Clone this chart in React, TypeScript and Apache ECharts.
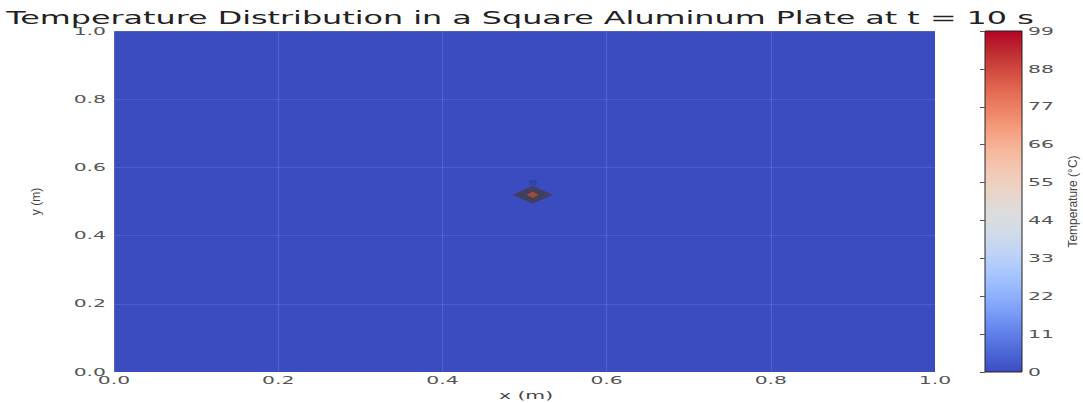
import React, { useEffect, useRef } from "react";
import * as echarts from "echarts";

const chartTitle = "Temperature Distribution in a Square Aluminum Plate at t = 10 s";
const xAxisName = "x (m)";
const yAxisName = "y (m)";
const colorbarName = "Temperature (°C)";

// plate extent [min, max] in metres and its (ambient) temperature
const plateX = [0, 1];
const plateY = [0, 1];
const plateTemp = [0];

// hot spot at the plate's centre
const hotX = [0.51];
const hotY = [0.52];
const hotTemp = [99];

// tick labels
const xTicks = [0, 0.2, 0.4, 0.6, 0.8, 1.0];
const yTicks = [0, 0.2, 0.4, 0.6, 0.8, 1.0];
const tempTicks = [0, 11, 22, 33, 44, 55, 66, 77, 88, 99];
const tempMin = 0;
const tempMax = 99;

const coolwarm = [
  "#3b4cc0", "#4d68d7", "#6282ea", "#7a9df8", "#93b5fe", "#aac7fd",
  "#c0d4f5", "#d2dbe8", "#dddcdc", "#ead4c8", "#f2c9b4", "#f6b89c",
  "#f5a081", "#ee8468", "#e36a53", "#d24b40", "#bd2a30", "#b40426",
];

const WIDE = 1.85;
const tickFont = { fontSize: 11, fontFamily: "DejaVu Sans", fill: "#555" };

export default function App() {
  const ref = useRef<HTMLDivElement>(null);
  useEffect(() => {
    document.body.style.margin = "0";
    const chart = echarts.init(ref.current!, null, { renderer: "svg" });
    const n = coolwarm.length;
    const gradStops = coolwarm.map((c, i) => ({ offset: i / (n - 1), color: c }));
    const tickLabel = (
      pt: number[],
      dx: number,
      dy: number,
      text: string,
      align: string
    ) => ({
      type: "text",
      x: pt[0] + dx,
      y: pt[1] + dy,
      scaleX: WIDE,
      style: { ...tickFont, text, textAlign: align, textVerticalAlign: "middle" },
    });
    chart.setOption({
      animation: false,
      backgroundColor: "#fff",
      graphic: [
        {
          type: "text",
          x: 520,
          y: 18,
          scaleX: 1.87,
          style: {
            text: chartTitle,
            textAlign: "center",
            textVerticalAlign: "middle",
            fontSize: 17,
            fontFamily: "DejaVu Sans",
            fill: "#222",
          },
        },
        {
          type: "text",
          x: 526,
          y: 395,
          scaleX: WIDE,
          style: {
            text: xAxisName,
            textAlign: "center",
            textVerticalAlign: "middle",
            fontSize: 11,
            fontFamily: "DejaVu Sans",
            fill: "#444",
          },
        },
      ],
      visualMap: {
        show: false,
        min: tempMin,
        max: tempMax,
        dimension: 4,
        seriesIndex: [0],
        inRange: { color: coolwarm },
      },
      grid: [
        { left: 114, top: 31, width: 821, height: 341 },
        { left: 985, top: 31, width: 37, height: 341 },
      ],
      xAxis: [
        {
          type: "value",
          gridIndex: 0,
          min: 0,
          max: 1,
          interval: 0.2,
          axisLine: { show: false },
          axisTick: { show: false },
          axisLabel: { show: false },
          splitLine: { show: true, lineStyle: { color: "rgba(255,255,255,0.13)", width: 1 } },
        },
        { type: "value", gridIndex: 1, min: 0, max: 1, show: false },
      ],
      yAxis: [
        {
          type: "value",
          gridIndex: 0,
          min: 0,
          max: 1,
          interval: 0.2,
          name: yAxisName,
          nameLocation: "middle",
          nameGap: 72,
          nameRotate: 90,
          nameTextStyle: { color: "#444", fontSize: 12, fontFamily: "Liberation Sans Narrow, Liberation Sans" },
          axisLine: { show: false },
          axisTick: { show: false },
          axisLabel: { show: false },
          splitLine: { show: true, lineStyle: { color: "rgba(255,255,255,0.1)", width: 1 } },
        },
        {
          type: "value",
          gridIndex: 1,
          min: tempMin,
          max: tempMax,
          interval: 11,
          position: "right",
          name: colorbarName,
          nameLocation: "middle",
          nameGap: 45,
          nameRotate: 90,
          nameTextStyle: { color: "#444", fontSize: 12, fontFamily: "Liberation Sans Narrow, Liberation Sans" },
          axisLine: { show: false },
          axisTick: { show: true, inside: true, length: 5, lineStyle: { color: "#555" } },
          axisLabel: { show: false },
          splitLine: { show: false },
        },
      ],
      series: [
        {
          type: "custom",
          xAxisIndex: 0,
          yAxisIndex: 0,
          z: -1,
          encode: { x: [0, 1], y: [2, 3] },
          data: [[plateX[0], plateX[1], plateY[0], plateY[1], plateTemp[0]]],
          renderItem: (params: any, api: any) => {
            const p0 = api.coord([api.value(0), api.value(2)]);
            const p1 = api.coord([api.value(1), api.value(3)]);
            return {
              type: "rect",
              shape: { x: p0[0], y: p1[1], width: p1[0] - p0[0], height: p0[1] - p1[1] },
              style: { fill: api.visual("color") },
            };
          },
        },
        {
          type: "scatter",
          xAxisIndex: 0,
          yAxisIndex: 0,
          symbol: "diamond",
          symbolSize: [40, 18],
          itemStyle: { color: "#433c44" },
          label: {
            show: true,
            position: "top",
            distance: 0,
            fontSize: 7,
            color: "#1c2a80",
            formatter: (p: any) => String(p.value[2]),
          },
          data: hotX.map((x, i) => [x, hotY[i], hotTemp[i]]),
        },
        {
          type: "scatter",
          xAxisIndex: 0,
          yAxisIndex: 0,
          symbol: "diamond",
          symbolSize: [12, 6],
          itemStyle: { color: "#b8512c" },
          data: hotX.map((x, i) => [x, hotY[i], hotTemp[i]]),
        },
        {
          type: "custom",
          xAxisIndex: 1,
          yAxisIndex: 1,
          z: -1,
          encode: { x: [0, 1], y: [2, 3] },
          data: [[0, 1, tempMin, tempMax]],
          renderItem: (params: any, api: any) => {
            const p0 = api.coord([api.value(0), api.value(2)]);
            const p1 = api.coord([api.value(1), api.value(3)]);
            return {
              type: "rect",
              shape: { x: p0[0], y: p1[1], width: p1[0] - p0[0], height: p0[1] - p1[1] },
              style: {
                fill: {
                  type: "linear",
                  x: 0,
                  y: 1,
                  x2: 0,
                  y2: 0,
                  colorStops: gradStops,
                },
                stroke: "#222",
                lineWidth: 1,
              },
            };
          },
        },
        // x tick labels
        {
          type: "custom",
          xAxisIndex: 0,
          yAxisIndex: 0,
          encode: { x: 0, y: 1 },
          data: xTicks.map((v) => [v, 0]),
          renderItem: (params: any, api: any) =>
            tickLabel(api.coord([api.value(0), api.value(1)]), 0, 8, api.value(0).toFixed(1), "center"),
        },
        // y tick labels
        {
          type: "custom",
          xAxisIndex: 0,
          yAxisIndex: 0,
          encode: { x: 0, y: 1 },
          data: yTicks.map((v) => [0, v]),
          renderItem: (params: any, api: any) =>
            tickLabel(api.coord([api.value(0), api.value(1)]), -8, 0, api.value(1).toFixed(1), "right"),
        },
        // colorbar tick labels
        {
          type: "custom",
          xAxisIndex: 1,
          yAxisIndex: 1,
          encode: { x: 0, y: 1 },
          data: tempTicks.map((v) => [1, v]),
          renderItem: (params: any, api: any) =>
            tickLabel(api.coord([api.value(0), api.value(1)]), 6, 0, String(api.value(1)), "left"),
        },
      ],
    });
    return () => chart.dispose();
  }, []);
  return <div ref={ref} style={{ width: 1083, height: 403 }} />;
}
